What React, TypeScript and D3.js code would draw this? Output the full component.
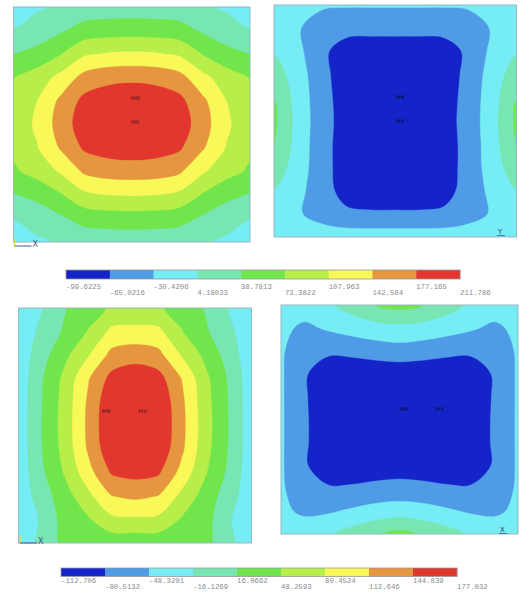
import React from "react";
import * as d3 from "d3";

// ---------- colour bar data ----------
const topLevels = [-99.6225, -65.0216, -30.4206, 4.18033, 38.7813, 73.3822, 107.963, 142.584, 177.165, 211.786];
const topLabels = ["-99.6225", "-65.0216", "-30.4206", "4.18033", "38.7813", "73.3822", "107.963", "142.584", "177.165", "211.786"];
const bottomLevels = [-112.706, -80.5132, -48.3201, -16.1269, 16.0662, 48.2593, 80.4524, 112.646, 144.839, 177.032];
const bottomLabels = ["-112.706", "-80.5132", "-48.3201", "-16.1269", "16.0662", "48.2593", "80.4524", "112.646", "144.839", "177.032"];
const bandColors = ["#1424c8", "#4f9be6", "#76ecf4", "#78e6b2", "#70e64c", "#b8ee4a", "#f8f858", "#e6963e", "#e2372f"];

// ---------- field values read on an 11 x 11 grid (rows top->bottom, cols left->right) ----------
const grid1 = [
  [-6, 0, 9, 17, 19, 20, 19, 17, 9, 0, -6],
  [5, 18, 34, 53, 57, 58, 57, 53, 34, 18, 5],
  [38, 50, 72, 103, 111, 113, 111, 103, 72, 50, 38],
  [72, 90, 118, 155, 167, 170, 167, 155, 118, 90, 72],
  [82, 108, 150, 187, 197, 200, 197, 187, 150, 108, 82],
  [85, 114, 158, 196, 207, 210, 207, 196, 158, 114, 85],
  [82, 106, 146, 182, 192, 195, 192, 182, 146, 106, 82],
  [68, 86, 112, 148, 158, 160, 158, 148, 112, 86, 68],
  [36, 48, 70, 100, 108, 110, 108, 100, 70, 48, 36],
  [4, 17, 33, 51, 55, 56, 55, 51, 33, 17, 4],
  [-7, -1, 8, 16, 18, 19, 18, 16, 8, -1, -7],
];
const grid2 = [
  [-15, -22, -26, -27, -27, -27, -27, -27, -26, -22, -15],
  [-10, -28, -48, -56, -57, -57, -57, -56, -48, -28, -10],
  [1, -22, -60, -78, -80, -80, -80, -78, -60, -22, 1],
  [22, -15, -55, -85, -91, -92, -91, -85, -55, -15, 22],
  [38, -11, -53, -82, -95, -97, -95, -82, -53, -11, 38],
  [45, -9, -52, -80, -94, -99, -94, -80, -52, -9, 45],
  [40, -11, -53, -82, -96, -98, -96, -82, -53, -11, 40],
  [24, -14, -52, -83, -92, -93, -92, -83, -52, -14, 24],
  [3, -20, -54, -76, -80, -80, -80, -76, -54, -20, 3],
  [-8, -27, -45, -60, -62, -62, -62, -60, -45, -27, -8],
  [-8, -12, -12, -12, -12, -12, -12, -12, -12, -12, -8],
];
const grid3 = [
  [-41, -18, 14, 36, 52, 55, 52, 36, 14, -18, -41],
  [-39, -8, 21, 50, 88, 90, 88, 50, 21, -8, -39],
  [-38, 3, 41, 78, 122, 131, 122, 78, 41, 3, -38],
  [-37, 13, 57, 110, 155, 166, 157, 112, 57, 13, -37],
  [-36, 15, 61, 118, 171, 174, 172, 120, 61, 15, -36],
  [-36, 16, 63, 120, 174, 177, 175, 122, 63, 16, -36],
  [-36, 15, 60, 117, 169, 172, 170, 119, 60, 15, -36],
  [-37, 10, 52, 101, 148, 155, 149, 102, 52, 10, -37],
  [-38, 0, 35, 72, 112, 119, 112, 72, 35, 0, -38],
  [-40, -12, 30, 45, 73, 75, 73, 45, 30, -12, -40],
  [-42, -5, 26, 28, 28, 27, 28, 28, 26, -5, -42],
];
const grid4 = [
  [-28, -30, -22, -3, 16, 25, 16, -3, -22, -30, -28],
  [-40, -55, -44, -35, -28, -24, -28, -35, -44, -55, -40],
  [-44, -70, -76, -72, -66, -62, -66, -72, -76, -70, -44],
  [-44, -78, -95, -102, -101, -100, -101, -102, -95, -78, -44],
  [-44, -78, -98, -106, -108, -108, -108, -106, -98, -78, -44],
  [-44, -77, -98, -106, -110, -111, -110, -106, -98, -77, -44],
  [-44, -77, -98, -106, -109, -108, -109, -106, -98, -77, -44],
  [-44, -78, -96, -103, -99, -96, -99, -103, -96, -78, -44],
  [-44, -68, -78, -76, -72, -70, -72, -76, -78, -68, -44],
  [-42, -54, -52, -44, -36, -32, -36, -44, -52, -54, -42],
  [-28, -30, -21, -3, 12, 25, 12, -3, -21, -30, -28],
];

// min / max node markers (plate coordinates 0..1)
const marks1 = [{ u: 0.514, v: 0.389, t: "MN" }, { u: 0.514, v: 0.49, t: "MX" }];
const marks2 = [{ u: 0.52, v: 0.4, t: "MN" }, { u: 0.52, v: 0.503, t: "MX" }];
const marks3 = [{ u: 0.376, v: 0.44, t: "MN" }, { u: 0.533, v: 0.44, t: "MX" }];
const marks4 = [{ u: 0.519, v: 0.458, t: "MN" }, { u: 0.67, v: 0.458, t: "MX" }];

// ---------- layout ----------
const panelBoxes = [
  [13.5, 7, 250, 242],
  [274, 5, 516.5, 237],
  [18.5, 308, 251.5, 543],
  [281, 305, 518, 534],
];

type Mark = { u: number; v: number; t: string };

function Panel({ id, grid, levels, box, marks, markColor }: { id: number; grid: number[][]; levels: number[]; box: number[]; marks: Mark[]; markColor: string }) {
  const [x0, y0, x1, y1] = box;
  const rows = grid.length;
  const cols = grid[0].length;
  const W = cols + 2;
  const H = rows + 2;
  const padded: number[] = [];
  for (let j = -1; j <= rows; j++) {
    const jj = Math.min(rows - 1, Math.max(0, j));
    for (let i = -1; i <= cols; i++) {
      const ii = Math.min(cols - 1, Math.max(0, i));
      padded.push(grid[jj][ii]);
    }
  }
  const val = (i: number, j: number) => padded[j * W + i];
  const xs = d3.scaleLinear().domain([0, 1]).range([x0, x1]);
  const ys = d3.scaleLinear().domain([0, 1]).range([y0, y1]);
  // padded sample index k sits at plate coordinate (k - 1) / (n - 1)
  const px = (p: number) => xs((p - 1) / (cols - 1));
  const py = (p: number) => ys((p - 1) / (rows - 1));
  const frac = (d: number) => (isFinite(d) ? Math.max(0, Math.min(1, d)) : 0.5);
  // place a raw marching-squares point on the sample lattice with linear interpolation
  const place = (p: number[], t: number): [number, number] => {
    const X = p[0];
    const Y = p[1];
    const xi = Number.isInteger(X);
    const yi = Number.isInteger(Y);
    if (xi && !yi) {
      const row = Y - 0.5;
      const a = X - 1;
      const b = X;
      if (a < 0 || b > W - 1) return [X - 0.5, row];
      const v0 = val(a, row);
      const v1 = val(b, row);
      return [a + frac((t - v0) / (v1 - v0)), row];
    }
    if (yi && !xi) {
      const col = X - 0.5;
      const a = Y - 1;
      const b = Y;
      if (a < 0 || b > H - 1) return [col, Y - 0.5];
      const v0 = val(col, a);
      const v1 = val(col, b);
      return [col, a + frac((t - v0) / (v1 - v0))];
    }
    return [X - 0.5, Y - 0.5];
  };
  const contours = d3
    .contours()
    .size([W, H])
    .smooth(false)
    .thresholds(levels.slice(1, levels.length - 1))(padded);
  const line = d3.line().curve(d3.curveCatmullRomClosed.alpha(0.5));
  const paths = contours.map((c: any, k: number) => {
    let d = "";
    c.coordinates.forEach((poly: number[][][]) => {
      poly.forEach((ring: number[][]) => {
        const pts = ring.slice(0, -1).map((p) => {
          const q = place(p, c.value);
          return [px(q[0]), py(q[1])] as [number, number];
        });
        if (pts.length > 2) d += line(pts) || "";
      });
    });
    return { d, color: bandColors[k + 1] };
  });
  return (
    <g>
      <defs>
        <clipPath id={`clip${id}`}>
          <rect x={x0} y={y0} width={x1 - x0} height={y1 - y0} />
        </clipPath>
      </defs>
      <g clipPath={`url(#clip${id})`}>
        <rect x={x0} y={y0} width={x1 - x0} height={y1 - y0} fill={bandColors[0]} />
        {paths.map((p, i) => (
          <path key={i} d={p.d} fill={p.color} fillRule="evenodd" stroke={p.color} strokeWidth={0.4} />
        ))}
      </g>
      {marks.map((m, i) => (
        <text key={i} x={xs(m.u)} y={ys(m.v)} fontSize={5} fontFamily="DejaVu Sans" fontWeight="bold" textAnchor="middle" dominantBaseline="middle" fill={markColor} opacity={0.65}>
          {m.t}
        </text>
      ))}
      <rect x={x0} y={y0} width={x1 - x0} height={y1 - y0} fill="none" stroke="#98b8bf" strokeWidth={1} />
    </g>
  );
}

function ColorBar({ levels, labels, x0, x1, y, h, upper, lower }: { levels: number[]; labels: string[]; x0: number; x1: number; y: number; h: number; upper: number; lower: number }) {
  const xs = d3.scaleLinear().domain([0, levels.length - 1]).range([x0, x1]);
  const bands = d3.range(levels.length - 1);
  return (
    <g>
      {bands.map((i) => (
        <rect key={i} x={xs(i)} y={y} width={xs(i + 1) - xs(i) + 0.3} height={h} fill={bandColors[i]} />
      ))}
      <rect x={x0} y={y} width={x1 - x0} height={h} fill="none" stroke="#9a9a9a" strokeWidth={0.8} />
      {labels.map((t, i) => (
        <text key={i} x={xs(i)} y={i % 2 === 0 ? upper : lower} fontSize={7.3} fontFamily="Liberation Mono" fill="#8a8a8a">
          {t}
        </text>
      ))}
    </g>
  );
}

function Triad({ x, y, label, right }: { x: number; y: number; label: string; right?: boolean }) {
  if (right) {
    return (
      <g>
        <text x={x} y={y} fontSize={7} fontFamily="DejaVu Sans" fill="#334466">{label}</text>
        <line x1={x - 1} y1={y + 1.5} x2={x + 7} y2={y + 1.5} stroke="#4455aa" strokeWidth={0.8} />
      </g>
    );
  }
  return (
    <g>
      <line x1={x} y1={y - 7} x2={x} y2={y} stroke="#e8d840" strokeWidth={1.5} />
      <line x1={x} y1={y} x2={x + 17} y2={y} stroke="#4455aa" strokeWidth={1} />
      <text x={x + 18} y={y + 1} fontSize={8} fontFamily="DejaVu Sans" fill="#445588">{label}</text>
    </g>
  );
}

export default function App() {
  return (
    <svg width={520} height={595} style={{ position: "absolute", left: 0, top: 0, background: "#ffffff" }}>
      <rect x={0} y={0} width={520} height={595} fill="#ffffff" />
      <Panel id={1} grid={grid1} levels={topLevels} box={panelBoxes[0]} marks={marks1} markColor="#5a1a1a" />
      <Panel id={2} grid={grid2} levels={topLevels} box={panelBoxes[1]} marks={marks2} markColor="#0a0a40" />
      <Panel id={3} grid={grid3} levels={bottomLevels} box={panelBoxes[2]} marks={marks3} markColor="#5a1a1a" />
      <Panel id={4} grid={grid4} levels={bottomLevels} box={panelBoxes[3]} marks={marks4} markColor="#0a0a40" />
      <Triad x={14.5} y={246} label="X" />
      <Triad x={498} y={234} label="Y" right />
      <Triad x={20} y={543} label="X" />
      <Triad x={500} y={532} label="X" right />
      <ColorBar levels={topLevels} labels={topLabels} x0={66} x1={460} y={270} h={9} upper={288.5} lower={294.5} />
      <ColorBar levels={bottomLevels} labels={bottomLabels} x0={61} x1={457} y={568} h={8.5} upper={583} lower={589} />
    </svg>
  );
}
